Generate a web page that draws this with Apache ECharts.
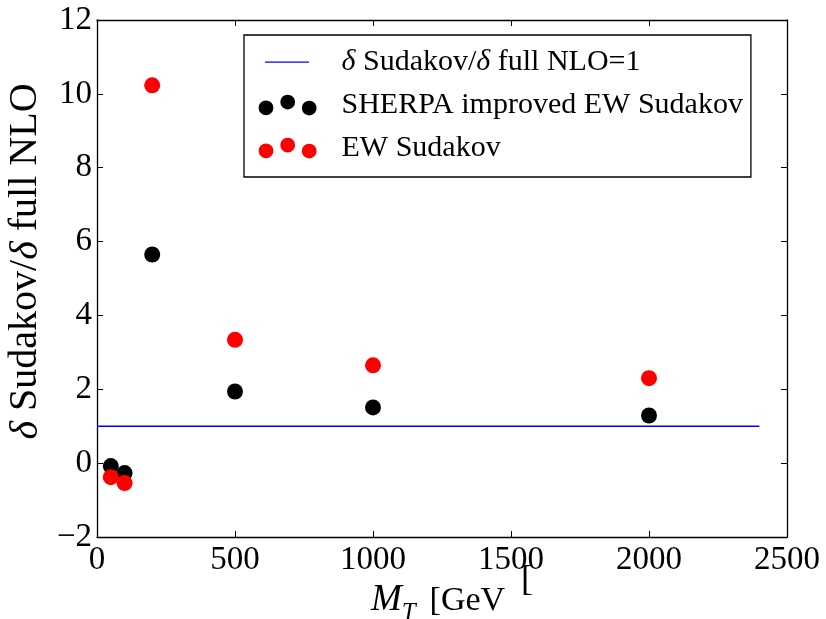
<!DOCTYPE html>
<html>
<head>
<meta charset="utf-8">
<script src="https://cdn.jsdelivr.net/npm/echarts@6/dist/echarts.min.js"></script>
<style>
  html, body { margin: 0; padding: 0; background: #ffffff; }
  #chart { width: 826px; height: 619px; }
</style>
</head>
<body>
<div id="chart"></div>
<script>
// Transverse mass points (GeV)
const massPoints = [50, 100, 200, 500, 1000, 2000];
// Ratio delta Sudakov / delta full NLO
const sherpaRatio = [-0.08, -0.27, 5.65, 1.94, 1.51, 1.29];
const ewSudakovRatio = [-0.38, -0.54, 10.23, 3.34, 2.65, 2.30];
// Reference line at ratio = 1
const unityX = [0, 2400];
const unityY = [1, 1];
// Axis ranges and tick steps
const xRange = [0, 2500];
const xStep = 500;
const yRange = [-2, 12];
const yStep = 2;

const seriesNames = [
  'δ Sudakov/δ full NLO=1',
  'SHERPA improved EW Sudakov',
  'EW Sudakov'
];

const FONT = "'Liberation Serif', 'Times New Roman', serif";
const pairs = (xs, ys) => xs.map((x, i) => [x, ys[i]]);

// Legend icons: a short line, and three staggered dots (bounds fixed by leading moveTo points)
const lineIcon = 'path://M0 0 M78 21 M6.5 9.9 L50.5 9.9 L50.5 11.3 L6.5 11.3 Z';
const dot = (cx, cy, r) =>
  `M${cx - r} ${cy} A${r} ${r} 0 1 0 ${cx + r} ${cy} A${r} ${r} 0 1 0 ${cx - r} ${cy} Z`;
const dotsIcon = 'path://M0 0 M78 21 ' + dot(7.5, 13.3, 7.4) + ' ' + dot(29.2, 7.6, 7.4) + ' ' + dot(50.7, 13.6, 7.4);

const chart = echarts.init(document.getElementById('chart'), null, { renderer: 'canvas' });

const axisCommon = {
  axisLine: { show: true, onZero: false, lineStyle: { color: '#000', width: 1.3 } },
  axisTick: { show: true, inside: true, length: 6, lineStyle: { color: '#000', width: 1 } },
  splitLine: { show: false }
};

const serif = (size, extra) => Object.assign({ fontFamily: FONT, fontSize: size, color: '#000' }, extra || {});

chart.setOption({
  backgroundColor: '#ffffff',
  animation: false,
  textStyle: { fontFamily: FONT },
  grid: { left: 97, right: 39, top: 20, bottom: 82, containLabel: false, outerBoundsMode: 'none' },
  legend: {
    orient: 'vertical',
    left: 244,
    top: 35,
    padding: [12, 8, 14, 14.5],
    itemWidth: 78,
    itemHeight: 21,
    itemGap: 13,
    borderColor: '#000',
    borderWidth: 1.3,
    borderRadius: 0,
    backgroundColor: '#fff',
    selectedMode: false,
    itemStyle: { borderWidth: 0, opacity: 1 },
    textStyle: serif(30, {
      lineHeight: 30,
      rich: {
        n: serif(30, { lineHeight: 30 }),
        d: serif(30, { fontStyle: 'italic', lineHeight: 30 })
      }
    }),
    formatter: (name) => name.split('δ').map((p) => p ? '{n|' + p + '}' : '').join('{d|δ}'),
    data: [
      { name: seriesNames[0], icon: lineIcon },
      { name: seriesNames[1], icon: dotsIcon },
      { name: seriesNames[2], icon: dotsIcon }
    ]
  },
  xAxis: [
    Object.assign({}, axisCommon, {
      type: 'value', position: 'bottom',
      min: xRange[0], max: xRange[1], interval: xStep,
      axisLabel: serif(33, { show: true, margin: 7, formatter: (v) => String(v) }),
      name: '{i|M}{s|T}{n|[GeV}',
      nameLocation: 'middle',
      nameGap: 40,
      nameTextStyle: serif(34, {
        padding: [0, 8, 0, 0],
        rich: {
          i: serif(37, { fontStyle: 'italic', verticalAlign: 'bottom', padding: [0, 0, 7, 0] }),
          s: serif(25, { fontStyle: 'italic', verticalAlign: 'bottom', padding: [0, 14, 0, 0] }),
          n: serif(34, { verticalAlign: 'bottom', padding: [0, 0, 8, 0] })
        }
      })
    }),
    Object.assign({}, axisCommon, {
      type: 'value', position: 'top',
      min: xRange[0], max: xRange[1], interval: xStep,
      axisLabel: { show: false }
    })
  ],
  yAxis: [
    Object.assign({}, axisCommon, {
      type: 'value', position: 'left',
      min: yRange[0], max: yRange[1], interval: yStep,
      axisLabel: serif(33, { show: true, margin: 5, formatter: (v) => String(v).replace('-', '\u2212') }),
      name: '{d|δ}{n| Sudakov/}{d|δ}{n| full NLO}',
      nameLocation: 'middle',
      nameRotate: 90,
      nameGap: 50,
      nameTextStyle: serif(40, {
        padding: [0, 0, 0, 34],
        rich: {
          n: serif(40),
          d: serif(40, { fontStyle: 'italic' })
        }
      })
    }),
    Object.assign({}, axisCommon, {
      type: 'value', position: 'right',
      min: yRange[0], max: yRange[1], interval: yStep,
      axisLabel: { show: false }
    })
  ],
  graphic: [
    {
      type: 'text',
      left: 521,
      top: 563,
      style: { text: '[', fontFamily: FONT, fontSize: 36, fill: '#000' },
      silent: true
    }
  ],
  series: [
    {
      name: seriesNames[0],
      type: 'line',
      data: pairs(unityX, unityY),
      showSymbol: false,
      symbol: 'none',
      color: '#0000ff',
      lineStyle: { color: '#0000ff', width: 1.5 },
      itemStyle: { color: '#0000ff' },
      z: 2
    },
    {
      name: seriesNames[1],
      type: 'scatter',
      data: pairs(massPoints, sherpaRatio),
      symbol: 'circle',
      symbolSize: 16,
      color: '#000000',
      itemStyle: { color: '#000000', opacity: 1 },
      z: 3
    },
    {
      name: seriesNames[2],
      type: 'scatter',
      data: pairs(massPoints, ewSudakovRatio),
      symbol: 'circle',
      symbolSize: 16,
      color: '#ff0000',
      itemStyle: { color: '#ff0000', opacity: 1 },
      z: 4
    }
  ]
});
</script>
</body>
</html>
